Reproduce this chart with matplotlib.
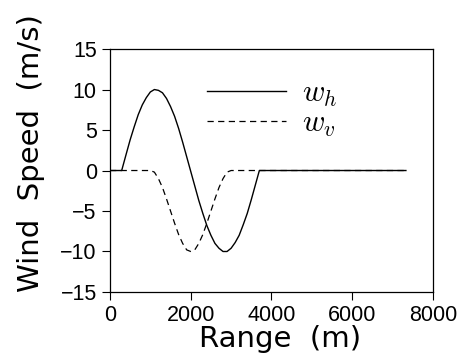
import matplotlib
matplotlib.use("Agg")
import matplotlib.pyplot as plt

# Values
range_h = [0, 290, 400, 500, 600, 700, 800, 900, 1000, 1100, 1200, 1300, 1400,
           1500, 1600, 1700, 1800, 1900, 2000, 2100, 2200, 2300, 2400, 2500,
           2600, 2700, 2800, 2900, 3000, 3100, 3200, 3300, 3400, 3500, 3600,
           3700, 7330]
wind_h = [0, 0, 2.0, 3.8, 5.4, 6.9, 8.1, 9.0, 9.7, 10.0, 9.9, 9.6, 8.9,
          7.9, 6.7, 5.2, 3.5, 1.7, -0.1, -1.9, -3.7, -5.3, -6.8, -8.0,
          -9.0, -9.6, -10.0, -10.0, -9.6, -8.9, -8.0, -6.7, -5.3, -3.6, -1.8,
          0, 0]

range_v = [0, 1000, 1100, 1200, 1300, 1400, 1500, 1600, 1700, 1800, 1900,
           2000, 2100, 2200, 2300, 2400, 2500, 2600, 2700, 2800, 2900, 3000,
           7330]
wind_v = [0, 0, -0.2, -1.0, -2.1, -3.5, -5.0, -6.5, -7.9, -9.0, -9.8,
          -10.0, -9.8, -9.0, -7.9, -6.5, -5.0, -3.5, -2.1, -1.0, -0.2, 0,
          0]

x_ticks = [0, 2000, 4000, 6000, 8000]
y_ticks = [-15, -10, -5, 0, 5, 10, 15]


def make_plot():
    plt.rcParams["font.family"] = ["Liberation Sans", "DejaVu Sans"]
    plt.rcParams["mathtext.fontset"] = "cm"

    fig = plt.figure(figsize=(4.67, 3.58), dpi=100)
    ax = fig.add_axes([0.2355, 0.1844, 0.6916, 0.6786])

    ax.plot(range_h, wind_h, color="black", linewidth=1.0, label="$w_h$")
    ax.plot(range_v, wind_v, color="black", linewidth=0.9,
            linestyle=(0, (5, 3.5)), label="$w_v$")

    ax.set_xlim(0, 8000)
    ax.set_ylim(-15, 15)
    ax.set_xticks(x_ticks)
    ax.set_yticks(y_ticks)
    ax.tick_params(direction="out", length=6, width=0.8, labelsize=15.5,
                   top=False, right=False)
    for side in ax.spines.values():
        side.set_linewidth(0.9)

    # the original lettering is wide, DejaVu gets closer to its extent
    ax.set_xlabel("Range  (m)", fontsize=21, va="top", family="DejaVu Sans")
    ax.xaxis.set_label_coords(0.526, -0.135)
    ax.set_ylabel("Wind  Speed  (m/s)", fontsize=21, va="center",
                  family="DejaVu Sans")
    ax.yaxis.set_label_coords(-0.245, 0.57)

    ax.legend(loc="upper left", bbox_to_anchor=(0.30, 0.877), frameon=False,
              fontsize=22, handlelength=2.58, handletextpad=0.52,
              labelspacing=0.0, borderpad=0, borderaxespad=0)

    fig.savefig("out.png", dpi=100)


if __name__ == "__main__":
    make_plot()
